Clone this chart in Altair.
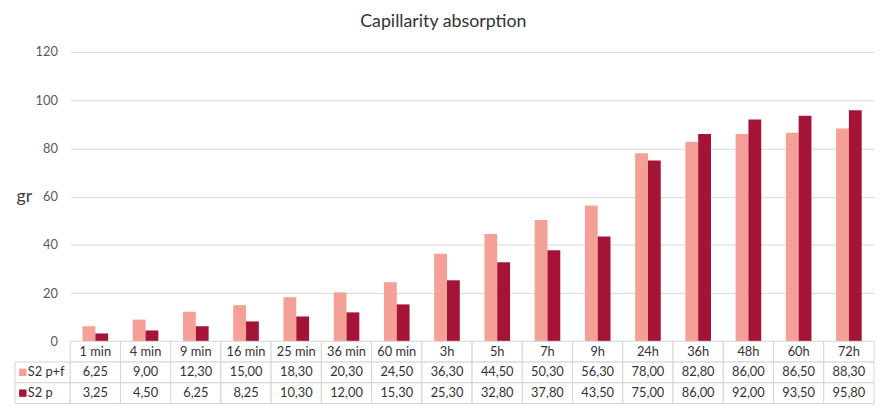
import altair as alt
import pandas as pd

categories = ["1 min", "4 min", "9 min", "16 min", "25 min", "36 min", "60 min",
              "3h", "5h", "7h", "9h", "24h", "36h", "48h", "60h", "72h"]
s2_pf = [6.25, 9.00, 12.30, 15.00, 18.30, 20.30, 24.50, 36.30, 44.50, 50.30,
         56.30, 78.00, 82.80, 86.00, 86.50, 88.30]
s2_p = [3.25, 4.50, 6.25, 8.25, 10.30, 12.00, 15.30, 25.30, 32.80, 37.80,
        43.50, 75.00, 86.00, 92.00, 93.50, 95.80]
series = ["S2 p+f", "S2 p"]
colors = ["#F5A096", "#A51437"]
y_ticks = [0, 20, 40, 60, 80, 100, 120]

FONT = "Lato"
W, H, ROWH, HDRW = 814, 293, 21, 56

rows = []
for c, a, b in zip(categories, s2_pf, s2_p):
    rows.append({"cat": c, "series": series[0], "value": a})
    rows.append({"cat": c, "series": series[1], "value": b})
df = pd.DataFrame(rows)

row_domain = ["hdr"] + series
trows = []
for c in categories:
    trows.append({"cat": c, "row": "hdr", "text": c})
for r in rows:
    trows.append({"cat": r["cat"], "row": r["series"],
                  "text": f"{r['value']:.2f}".replace(".", ",")})
tdf = pd.DataFrame(trows)
hdf = pd.DataFrame({"row": series, "series": series})

color = alt.Color("series:N", scale=alt.Scale(domain=series, range=colors), legend=None)

bars = alt.Chart(df).mark_bar().encode(
    x=alt.X("cat:N", sort=categories, axis=None,
            scale=alt.Scale(paddingInner=0.49, paddingOuter=0.245)),
    xOffset=alt.XOffset("series:N", sort=series,
                        scale=alt.Scale(domain=series, paddingInner=0, paddingOuter=0)),
    y=alt.Y("value:Q", scale=alt.Scale(domain=[0, 120]),
            axis=alt.Axis(values=y_ticks, title="gr", titleAngle=0, titleAlign="right",
                          titleBaseline="middle", titleX=-39, titleY=H / 2,
                          titleFontSize=18, titleFontWeight="normal", titleColor="#404040",
                          titleFont=FONT, labelPadding=13, grid=True)),
    color=color,
).properties(width=W, height=H)

spacer = alt.Chart(pd.DataFrame({"a": [0]})).mark_point(opacity=0).encode(
    x=alt.value(0), y=alt.value(0)
).properties(width=HDRW, height=H)

ybase = alt.Y("row:N", sort=row_domain, axis=None,
              scale=alt.Scale(domain=row_domain, paddingInner=0, paddingOuter=0))

cells_base = alt.Chart(tdf).encode(
    x=alt.X("cat:N", sort=categories, axis=None,
            scale=alt.Scale(paddingInner=0, paddingOuter=0)),
    y=ybase,
)
cells = (cells_base.mark_rect(fill="white", stroke="#d4d4d4", strokeWidth=1)
         + cells_base.mark_text(font=FONT, fontSize=13, color="#333333").encode(text="text:N")
         ).properties(width=W, height=3 * ROWH)

hbase = alt.Chart(hdf).encode(y=ybase)
header = (hbase.mark_rect(fill="white", stroke="#d4d4d4", strokeWidth=1)
          + hbase.mark_square(size=56, opacity=1).encode(x=alt.value(8), color=color)
          + hbase.mark_text(font=FONT, fontSize=13, color="#333333", align="left").encode(
              x=alt.value(13), text="row:N")
          ).properties(width=HDRW, height=3 * ROWH)

chart = alt.concat(spacer, bars, header, cells, columns=2, spacing=0, bounds="flush").properties(
    title=alt.TitleParams("Capillarity absorption", fontSize=18, font=FONT, fontWeight="normal",
                          color="#333333", anchor="middle", offset=15),
    padding={"left": 4, "top": 3, "right": 0, "bottom": 0},
).configure_view(stroke=None).configure_axis(
    gridColor="#d9d9d9", domain=False, ticks=False, labelColor="#595959",
    labelFontSize=13, labelFont=FONT,
)

chart.save("out.html", embed_options={"renderer": "svg", "actions": False})
